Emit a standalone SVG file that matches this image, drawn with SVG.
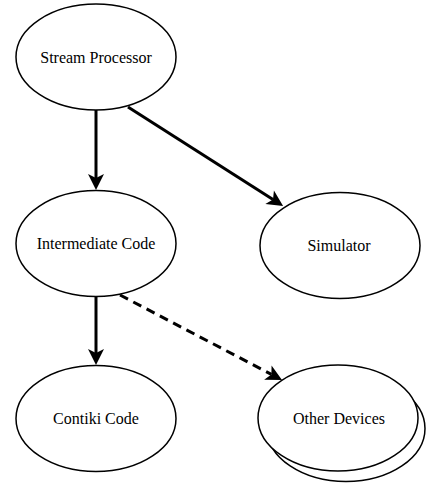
<svg xmlns="http://www.w3.org/2000/svg" width="426" height="483" viewBox="0 0 426 483">
<style>
.n{fill:#fff;stroke:#000;stroke-width:1.5}
.t{font-family:"Liberation Serif","Times New Roman",serif;font-size:16px;fill:#000;text-anchor:middle;dominant-baseline:central}
.e{fill:none;stroke:#000;stroke-width:3}
.d{stroke-dasharray:9 6}
</style>
<defs>
<marker id="ah" markerUnits="userSpaceOnUse" markerWidth="17" markerHeight="17" refX="4" refY="8" orient="auto" overflow="visible">
<path d="M16,8 L0,0 L4,8 L0,16 Z" fill="#000" stroke="none"/>
</marker>
</defs>
<rect width="426" height="483" fill="#fff"/>
<g id="edges">
<line class="e" x1="96" y1="110" x2="96" y2="178" marker-end="url(#ah)"/>
<line class="e" x1="128" y1="107" x2="273" y2="199.5" marker-end="url(#ah)"/>
<line class="e" x1="96" y1="297" x2="96" y2="353" marker-end="url(#ah)"/>
<line class="e d" x1="120" y1="295" x2="271.4" y2="374.4" marker-end="url(#ah)"/>
</g>
<g id="stream-processor">
<ellipse class="n" cx="96" cy="57" rx="80" ry="53"/>
<text class="t" x="96" y="57">Stream Processor</text>
</g>
<g id="intermediate-code">
<ellipse class="n" cx="96" cy="243.5" rx="80" ry="53"/>
<text class="t" x="96" y="243.5">Intermediate Code</text>
</g>
<g id="simulator">
<ellipse class="n" cx="340" cy="245.5" rx="80" ry="53"/>
<text class="t" x="339" y="245.5">Simulator</text>
</g>
<g id="contiki-code">
<ellipse class="n" cx="96" cy="418.5" rx="80" ry="53"/>
<text class="t" x="96" y="418.5">Contiki Code</text>
</g>
<g id="other-devices">
<ellipse class="n" cx="346" cy="428.5" rx="79" ry="53"/>
<ellipse class="n" cx="338" cy="418" rx="80" ry="53"/>
<text class="t" x="339" y="418">Other Devices</text>
</g>
</svg>
